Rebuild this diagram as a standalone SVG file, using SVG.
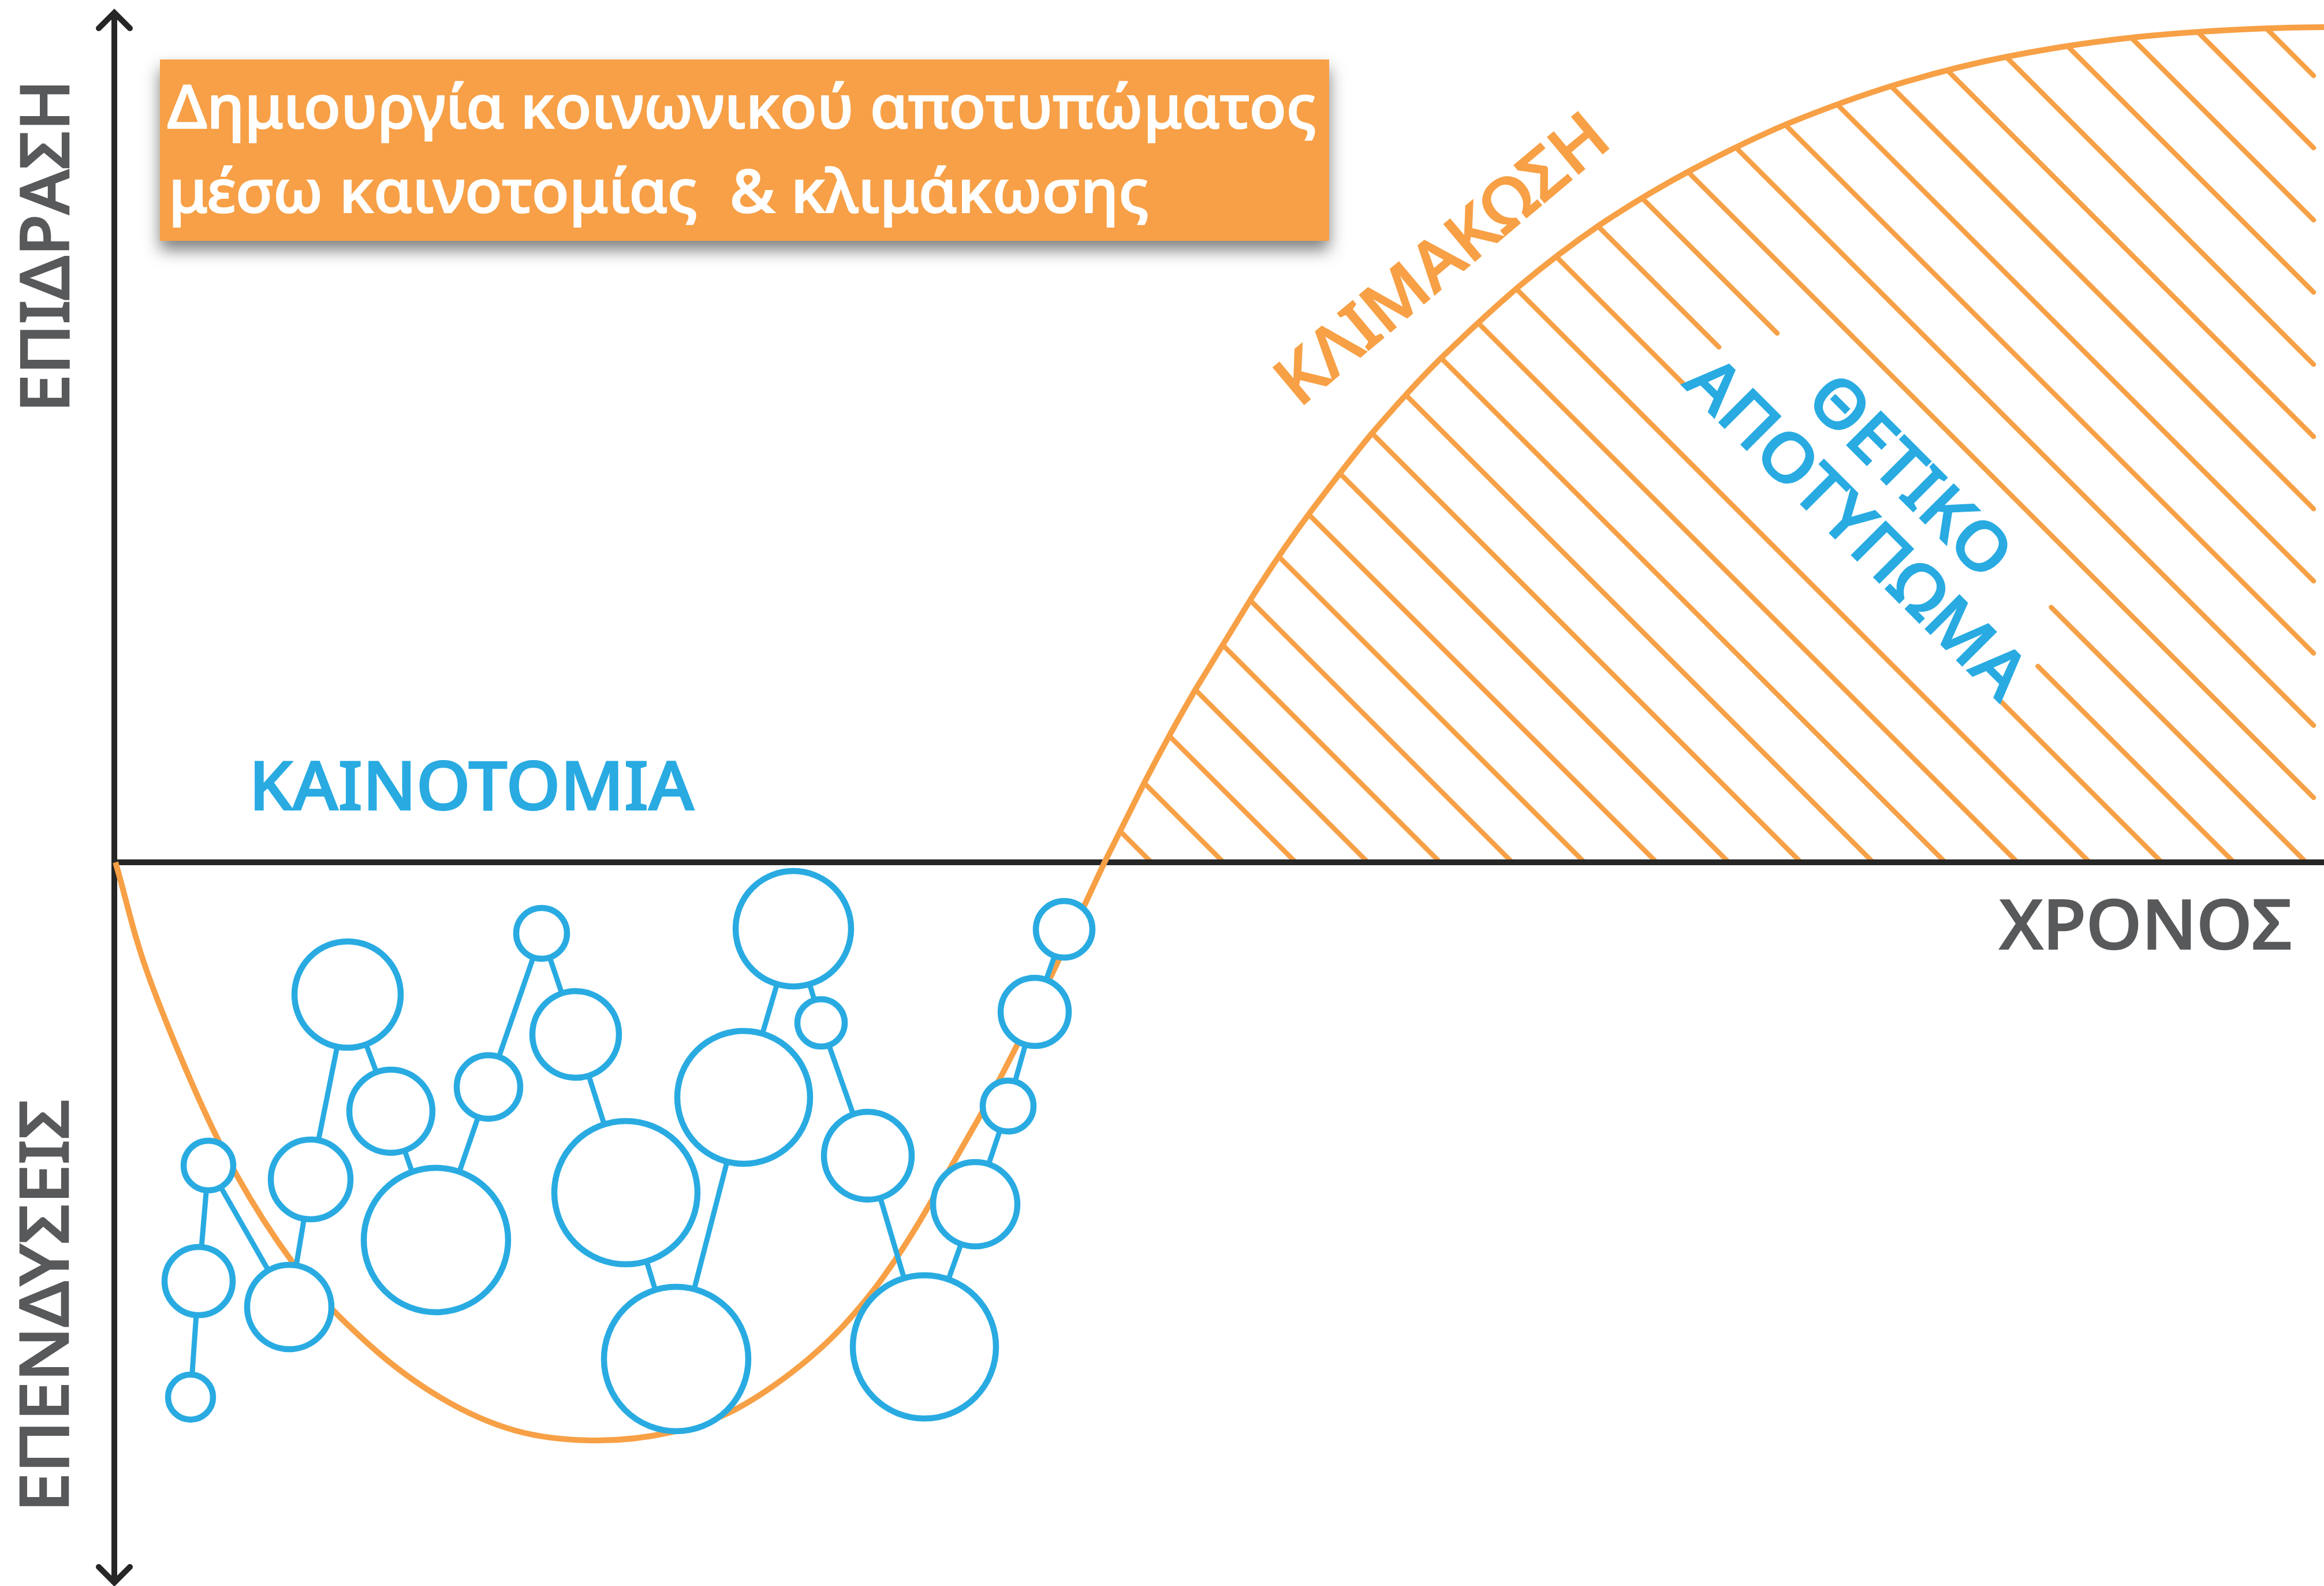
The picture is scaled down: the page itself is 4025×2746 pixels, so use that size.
<svg xmlns="http://www.w3.org/2000/svg" width="4025" height="2746" viewBox="0 0 4025 2746">
<style>
.axis{stroke:#262626;stroke-width:10;fill:none}
.chev{stroke:#262626;stroke-width:10;fill:none;stroke-linecap:round;stroke-linejoin:miter}
.curve{stroke:#f7a046;stroke-width:10;fill:none}
.hatch{stroke:#f7a046;stroke-width:8.5;fill:none;stroke-linecap:round}
.node{fill:#fff;stroke:#29abe2;stroke-width:10.5}
.link{stroke:#29abe2;stroke-width:9;fill:none}
.lbl{font-family:"Noto Sans","Open Sans","DejaVu Sans",sans-serif;font-weight:500}
.gray{fill:#58595b;stroke:#58595b;stroke-width:2.5}
.blue{fill:#29abe2;stroke:#29abe2;stroke-width:2.5}
.orange{fill:#f7a046;stroke:#f7a046;stroke-width:2.5}
.white{fill:#ffffff;stroke:#ffffff;stroke-width:2}
</style>
<defs>
<filter id="shadow" x="-5%" y="-40%" width="110%" height="190%">
<feDropShadow dx="0" dy="16" stdDeviation="14" flood-color="#000" flood-opacity="0.5"/>
</filter>
<clipPath id="upperClip">
<path d="M1913,1493 C1937,1445 1961,1397 1984,1351 C2012,1297 2040,1246 2070,1194.5 C2103,1140 2136,1086 2169,1033 C2202,981 2234,934 2268,888.5 C2303,842 2338,796 2375,751.5 C2414,706 2453,662 2495,620.7 C2539,578 2584,536 2630,496.5 C2676,458 2723,422 2772,388.5 C2822,355 2874,324 2928,295 C2983,266 3039,238 3098,213.4 C3158,189 3220,166 3283,146.8 C3348,127 3414,110 3482,97 C3553,83 3627,72 3702,64 C3777,56 3854,52 3929,49 C3963,48 3996,47 4030,47 L4030,1493 Z"/>
</clipPath>
</defs>
<rect x="0" y="0" width="4025" height="2746" fill="#ffffff"/>

<g id="hatching" clip-path="url(#upperClip)">
<path class="hatch" d="M1994 1493l-1600 -1600M2119 1493l-1600 -1600M2244 1493l-1600 -1600M2369 1493l-1600 -1600M2494 1493l-1600 -1600M2619 1493l-1600 -1600M2744 1493l-1600 -1600M2869 1493l-1600 -1600M2994 1493l-1600 -1600M3119 1493l-1600 -1600M3244 1493l-1600 -1600M3369 1493l-1600 -1600M3494 1493l-1600 -1600M3619 1493l-1600 -1600M3744 1493L3467 1216M2915.5 664.5l-1000 -1000M3869 1493L3529.5 1153.5M2977 601l-1000 -1000M3994 1493L3552.5 1051.5M3078 577l-1000 -1000M4007 1381l-1600 -1600M4007 1256l-1500 -1500M4007 1131l-1400 -1400M4007 1006l-1300 -1300M4007 881l-1200 -1200M4007 756l-1000 -1000M4007 631l-900 -900M4007 506l-800 -800M4007 381l-600 -600M4007 256l-400 -400M4007 131l-300 -300"/>
</g>

<g id="axes">
<line class="axis" x1="198" y1="24" x2="198" y2="2738"/>
<polyline class="chev" points="171,49 198,22 225,49"/>
<polyline class="chev" points="171,2713 198,2740 225,2713"/>
<line class="axis" x1="198" y1="1493" x2="4025" y2="1493"/>
</g>

<g id="impact-curve">
<path class="curve" d="M200,1493 C220.3,1562 230.5,1618.2 261,1700 C291.5,1781.8 341.5,1902.3 383,1984 C424.5,2065.7 467.5,2132.8 510,2190 C552.5,2247.2 595.5,2288.5 638,2327 C680.5,2365.5 722.5,2396 765,2421 C807.5,2446 849.3,2464.8 893,2477 C936.7,2489.2 982.3,2493.5 1027,2494 C1071.7,2494.5 1119.5,2489.2 1161,2480 C1202.5,2470.8 1236.2,2460.2 1276,2439 C1315.8,2417.8 1362.7,2384.5 1400,2353 C1437.3,2321.5 1465,2293 1500,2250 C1542,2198 1580,2138 1613,2080 C1643,2028 1668,1983 1697,1933 C1735,1863 1775,1784 1811,1709 C1847,1636 1880,1563 1913,1493 C1937,1445 1961,1397 1984,1351 C2012,1297 2040,1246 2070,1194.5 C2103,1140 2136,1086 2169,1033 C2202,981 2234,934 2268,888.5 C2303,842 2338,796 2375,751.5 C2414,706 2453,662 2495,620.7 C2539,578 2584,536 2630,496.5 C2676,458 2723,422 2772,388.5 C2822,355 2874,324 2928,295 C2983,266 3039,238 3098,213.4 C3158,189 3220,166 3283,146.8 C3348,127 3414,110 3482,97 C3553,83 3627,72 3702,64 C3777,56 3854,52 3929,49 C3963,48 3996,47 4030,47"/>
</g>

<g id="connectors">
<line class="link" x1="361" y1="2018" x2="344" y2="2218"/>
<line class="link" x1="344" y1="2218" x2="330" y2="2419"/>
<line class="link" x1="361" y1="2018" x2="501" y2="2263"/>
<line class="link" x1="501" y1="2263" x2="538" y2="2042"/>
<line class="link" x1="538" y1="2042" x2="602" y2="1722"/>
<line class="link" x1="602" y1="1722" x2="677" y2="1924"/>
<line class="link" x1="677" y1="1924" x2="755" y2="2147"/>
<line class="link" x1="755" y1="2147" x2="846" y2="1882"/>
<line class="link" x1="846" y1="1882" x2="938" y2="1616"/>
<line class="link" x1="938" y1="1616" x2="997" y2="1791"/>
<line class="link" x1="997" y1="1791" x2="1084" y2="2065"/>
<line class="link" x1="1084" y1="2065" x2="1171" y2="2353"/>
<line class="link" x1="1171" y1="2353" x2="1288" y2="1900"/>
<line class="link" x1="1288" y1="1900" x2="1374" y2="1608"/>
<line class="link" x1="1374" y1="1608" x2="1422" y2="1771"/>
<line class="link" x1="1422" y1="1771" x2="1503" y2="2001"/>
<line class="link" x1="1503" y1="2001" x2="1601" y2="2332"/>
<line class="link" x1="1601" y1="2332" x2="1689" y2="2085"/>
<line class="link" x1="1689" y1="2085" x2="1746" y2="1915"/>
<line class="link" x1="1746" y1="1915" x2="1792" y2="1752"/>
<line class="link" x1="1792" y1="1752" x2="1843" y2="1609"/>
</g>

<g id="node-1"><circle class="node" cx="361" cy="2018" r="43"/></g>
<g id="node-2"><circle class="node" cx="344" cy="2218" r="59"/></g>
<g id="node-3"><circle class="node" cx="330" cy="2419" r="39"/></g>
<g id="node-4"><circle class="node" cx="501" cy="2263" r="73"/></g>
<g id="node-5"><circle class="node" cx="538" cy="2042" r="69"/></g>
<g id="node-6"><circle class="node" cx="602" cy="1722" r="92"/></g>
<g id="node-7"><circle class="node" cx="677" cy="1924" r="72"/></g>
<g id="node-8"><circle class="node" cx="755" cy="2147" r="125"/></g>
<g id="node-9"><circle class="node" cx="846" cy="1882" r="55"/></g>
<g id="node-10"><circle class="node" cx="938" cy="1616" r="44"/></g>
<g id="node-11"><circle class="node" cx="997" cy="1791" r="75"/></g>
<g id="node-12"><circle class="node" cx="1084" cy="2065" r="124"/></g>
<g id="node-13"><circle class="node" cx="1171" cy="2353" r="125"/></g>
<g id="node-14"><circle class="node" cx="1374" cy="1608" r="100"/></g>
<g id="node-15"><circle class="node" cx="1422" cy="1771" r="41"/></g>
<g id="node-16"><circle class="node" cx="1288" cy="1900" r="115"/></g>
<g id="node-17"><circle class="node" cx="1503" cy="2001" r="76"/></g>
<g id="node-18"><circle class="node" cx="1601" cy="2332" r="124"/></g>
<g id="node-19"><circle class="node" cx="1689" cy="2085" r="73"/></g>
<g id="node-20"><circle class="node" cx="1746" cy="1915" r="44"/></g>
<g id="node-21"><circle class="node" cx="1792" cy="1752" r="59"/></g>
<g id="node-22"><circle class="node" cx="1843" cy="1609" r="49"/></g>

<g id="title-box">
<rect x="277" y="103" width="2025" height="314" fill="#f7a046" filter="url(#shadow)"/>
<text class="lbl white" x="290" y="222" font-size="104" textLength="1990" lengthAdjust="spacingAndGlyphs">Δημιουργία κοινωνικού αποτυπώματος</text>
<text class="lbl white" x="292" y="368" font-size="104" textLength="1698" lengthAdjust="spacingAndGlyphs" xml:space="preserve">μέσω καινοτομίας  &amp; κλιμάκωσης</text>
</g>

<g id="label-impact"><text class="lbl gray" transform="translate(119,714) rotate(-90)" font-size="116" textLength="576" lengthAdjust="spacingAndGlyphs">ΕΠΙΔΡΑΣΗ</text></g>
<g id="label-investments"><text class="lbl gray" transform="translate(118,2618) rotate(-90)" font-size="116" textLength="715" lengthAdjust="spacingAndGlyphs">ΕΠΕΝΔΥΣΕΙΣ</text></g>
<g id="label-time"><text class="lbl gray" x="3463" y="1643" font-size="118" textLength="507" lengthAdjust="spacingAndGlyphs">ΧΡΟΝΟΣ</text></g>
<g id="label-innovation"><text class="lbl blue" x="431" y="1402" font-size="117" textLength="771" lengthAdjust="spacingAndGlyphs">ΚΑΙΝΟΤΟΜΙΑ</text></g>
<g id="label-scaling"><text class="lbl orange" transform="translate(2250,707) rotate(-40)" font-size="116" textLength="711" lengthAdjust="spacingAndGlyphs">ΚΛΙΜΑΚΩΣΗ</text></g>
<g id="label-positive">
<text class="lbl blue" transform="translate(3280,852) rotate(45)" font-size="116" text-anchor="middle" textLength="442" lengthAdjust="spacingAndGlyphs">ΘΕΤΙΚΟ</text>
<text class="lbl blue" transform="translate(3188,942) rotate(45)" font-size="116" text-anchor="middle" textLength="780" lengthAdjust="spacingAndGlyphs">ΑΠΟΤΥΠΩΜΑ</text>
</g>
</svg>
